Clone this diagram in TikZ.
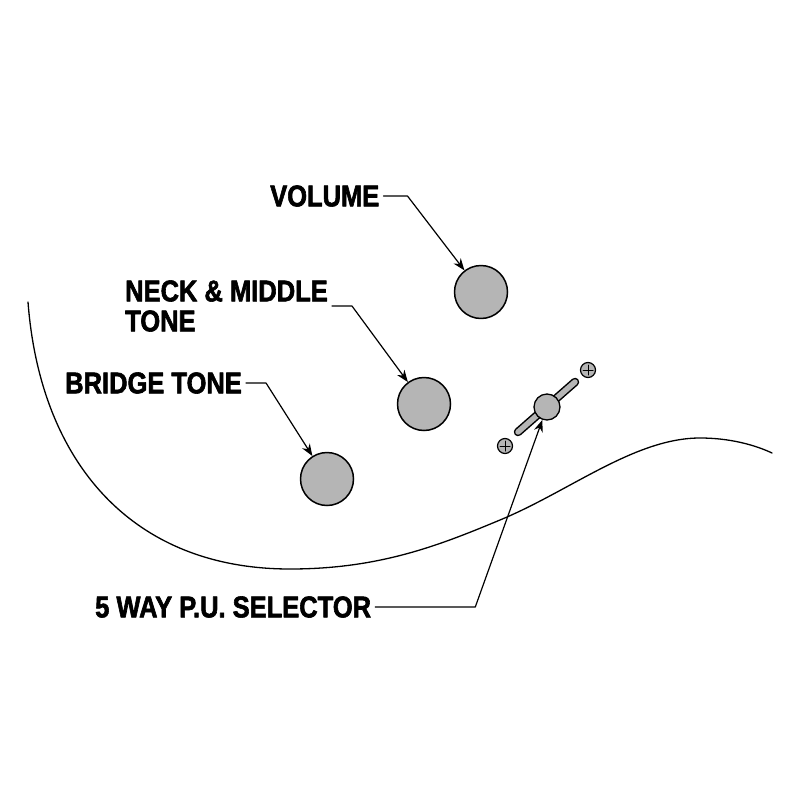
\documentclass[tikz,border=0pt]{standalone}
\usepackage{fontspec}
\setmainfont{Liberation Sans}[FakeStretch=0.85,FakeBold=2]
\usetikzlibrary{arrows.meta}
\definecolor{knobgray}{RGB}{181,181,181}

\begin{document}
\begin{tikzpicture}[x=1pt,y=-1pt,>={Stealth[length=12pt,width=9pt]},line join=round,line cap=round,
	font=\fontsize{30}{30}\selectfont\bfseries,
	knob/.style={circle,draw,fill=knobgray,line width=1.5pt,minimum size=53pt,inner sep=0pt},
	screw/.style={circle,draw,fill=knobgray,line width=1.2pt,minimum size=15pt,inner sep=0pt},
	lbl/.style={anchor=west,inner xsep=4pt,inner ysep=0pt,align=left},
	lead/.style={->,line width=1.2pt}]
	\useasboundingbox (0,0) rectangle (800,800);
	% body outline
	\draw[line width=1.3pt] (28,302) .. controls (40,460) and (130,569) .. (290,569)
		.. controls (380,569) and (440,545) .. (500,520)
		.. controls (570,491) and (635,438) .. (700,438)
		.. controls (730,438) and (755,445) .. (772,453);
	% knobs
	\node[knob] (vol) at (481,292) {};
	\node[knob] (neck) at (424,404) {};
	\node[knob] (bridge) at (327,479) {};
	% switch
	\draw[line width=8.5pt] (518,432)--(575,382);
	\draw[line width=5.5pt,knobgray] (518,432)--(575,382);
	\node[knob,minimum size=26pt,line width=1.3pt] (sel) at (547,407) {};
	\foreach \n/\p in {s1/{588,370},s2/{505,446}}{
		\node[screw] (\n) at (\p) {};
		\draw[line width=1pt] ([xshift=-5pt]\n.center)--([xshift=5pt]\n.center) ([yshift=-5pt]\n.center)--([yshift=5pt]\n.center);
	}
	% labels
	\node[lbl] (vollbl) at (266,196) {VOLUME};
	\node[lbl] (necklbl) at (121,306) {NECK \& MIDDLE\\TONE};
	\node[lbl] (bridgelbl) at (61,383) {BRIDGE TONE};
	\node[lbl] (sellbl) at (91,607) {5 WAY P.U. SELECTOR};
	\draw[lead] (vollbl.east)--++(24,0)--(vol);
	\draw[lead] (necklbl.east)--++(20,0)--(neck);
	\draw[lead] (bridgelbl.east)--++(20,0)--(bridge);
	\draw[lead] (sellbl.east)--++(100,0)--(sel);
\end{tikzpicture}
\end{document}
